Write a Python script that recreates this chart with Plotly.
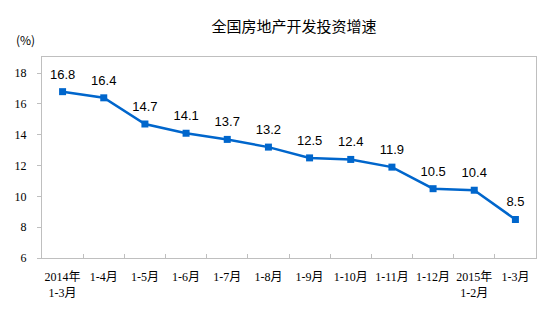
import plotly.graph_objects as go

# Cumulative year-on-year growth of national real-estate development investment (%)
periods = ["2014年<br>1-3月", "1-4月", "1-5月", "1-6月", "1-7月", "1-8月",
           "1-9月", "1-10月", "1-11月", "1-12月", "2015年<br>1-2月", "1-3月"]
growth = [16.8, 16.4, 14.7, 14.1, 13.7, 13.2, 12.5, 12.4, 11.9, 10.5, 10.4, 8.5]
y_ticks = [6, 8, 10, 12, 14, 16, 18]

line_color = "#0066cc"
axis_color = "#bfbfbf"
tick_font = dict(family="Liberation Serif, Noto Sans CJK SC", size=12, color="#000000")

fig = go.Figure()
# the growth line with square markers
fig.add_trace(go.Scatter(
    x=periods,
    y=growth,
    mode="lines+markers",
    line=dict(color=line_color, width=2.5),
    marker=dict(symbol="square", size=7, color=line_color),
    hoverinfo="skip",
))
# value labels: an invisible, larger marker pushes the text a little higher
fig.add_trace(go.Scatter(
    x=periods,
    y=growth,
    mode="markers+text",
    marker=dict(size=14, opacity=0),
    text=[f"{v:.1f}" for v in growth],
    textposition="top center",
    textfont=dict(family="Liberation Sans, Arial", size=13, color="#000000"),
    cliponaxis=False,
    hoverinfo="skip",
))

fig.update_layout(
    width=554,
    height=334,
    margin=dict(l=42, r=18, t=57, b=76),
    paper_bgcolor="#ffffff",
    plot_bgcolor="#ffffff",
    showlegend=False,
    title=dict(
        text="全国房地产开发投资增速",
        font=dict(family="Noto Sans CJK SC", size=15, color="#000000"),
        x=294 / 554, xref="container", xanchor="center",
        y=1 - 27 / 334, yref="container", yanchor="middle",
    ),
    xaxis=dict(
        type="category",
        range=[-0.5, len(periods) - 0.5],
        tickson="boundaries",
        ticks="inside",
        ticklen=4,
        tickcolor=axis_color,
        tickangle=0,
        showline=True,
        linecolor=axis_color,
        linewidth=1,
        mirror=True,
        showgrid=False,
        tickfont=tick_font,
        ticklabelstandoff=8,
    ),
    yaxis=dict(
        range=[6, 19.05],
        tickvals=y_ticks,
        ticks="outside",
        ticklen=4,
        tickcolor=axis_color,
        showline=True,
        linecolor=axis_color,
        linewidth=1,
        mirror=True,
        showgrid=False,
        zeroline=False,
        tickfont=tick_font,
        ticklabelstandoff=8,
    ),
    annotations=[dict(
        text="(%)",
        xref="paper", yref="paper",
        x=-0.01, y=1.085,
        xanchor="right", yanchor="middle",
        showarrow=False,
        font=dict(family="Noto Sans CJK SC", size=12, color="#000000"),
    )],
)

fig.write_html("out.html")
